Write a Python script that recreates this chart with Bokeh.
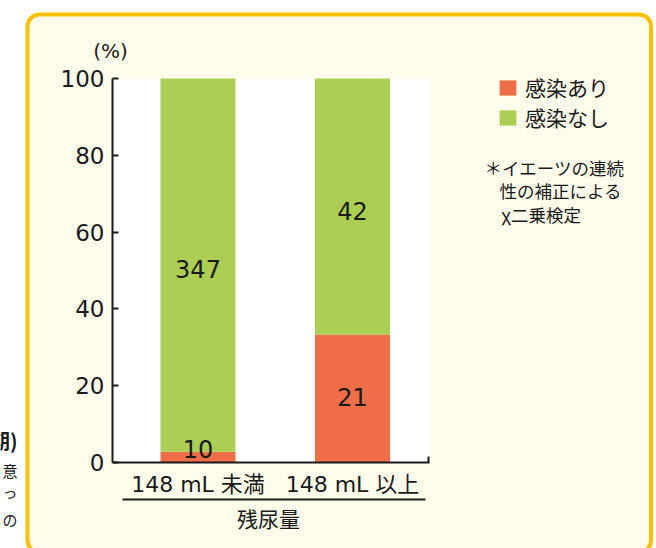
from bokeh.plotting import figure
from bokeh.models import Range1d, LinearAxis, FixedTicker, Legend, LegendItem, ColumnDataSource, Grid
from bokeh.core.properties import value
from bokeh.embed import file_html
from bokeh.resources import INLINE

# ---- data ----
groups = ["148 mL 未満", "148 mL 以上"]
infected = [10, 21]
not_infected = [347, 42]
series_names = ["感染あり", "感染なし"]
y_ticks = [0, 20, 40, 60, 80, 100]
axis_title = "残尿量"
unit_label = "(%)"
note_lines = ["＊イエーツの連続", "性の補正による", "χ二乗検定"]

x_pos = [1, 2]
totals = [a + b for a, b in zip(infected, not_infected)]
pct_inf = [a / t * 100 for a, t in zip(infected, totals)]
pct_top = [100 for _ in totals]

FONT = "Noto Sans CJK JP"
MIX = "DejaVu Sans, Noto Sans CJK JP"
ORANGE = "#ee6e48"
GREEN = "#abcf55"
CREAM = "#fffcec"
GOLD = "#f9c000"
INK = "#1a1a1a"

W, H = 656, 548
# plot area (pixels from top-left)
PL, PR, PT, PB = 112, 430, 78, 462
PX_PCT = (PB - PT) / 100.0
C1, PX_CAT = 197.5, 154.5

p = figure(width=W, height=H, output_backend="svg", toolbar_location=None,
           x_range=Range1d(0, W), y_range=Range1d(H, 0),
           x_axis_location=None, y_axis_location=None, min_border=0,
           background_fill_color="white", border_fill_color="white",
           outline_line_color=None)
p.center = [r for r in p.center if not isinstance(r, Grid)]

cat_start = x_pos[0] - C1 / PX_CAT
p.extra_x_ranges = {"cat": Range1d(start=cat_start, end=cat_start + W / PX_CAT)}
p.extra_y_ranges = {"pct": Range1d(start=-(H - PB) / PX_PCT, end=100 + PT / PX_PCT)}

def cat_at(px):
    return cat_start + px / PX_CAT

# panel
p.quad(left=[27], right=[650.5], top=[14], bottom=[552], fill_color=CREAM,
       line_color=GOLD, line_width=4, border_radius=12)
# white plot area
p.quad(left=[PL], right=[PR], top=[PT], bottom=[PB], fill_color="white", line_color=None)

src = ColumnDataSource(dict(x=x_pos, inf=pct_inf, top=pct_top))
r_inf = p.vbar(x="x", bottom=0, top="inf", width=75 / PX_CAT, source=src,
               x_range_name="cat", y_range_name="pct", fill_color=ORANGE, line_color=None)
r_not = p.vbar(x="x", bottom="inf", top="top", width=75 / PX_CAT, source=src,
               x_range_name="cat", y_range_name="pct", fill_color=GREEN, line_color=None)

# value labels
lab_x = x_pos + x_pos
lab_y = [v / 2 for v in pct_inf] + [v + (100 - v) / 2 for v in pct_inf]
lab_t = [str(v) for v in infected] + [str(v) for v in not_infected]
p.text(x=lab_x, y=lab_y, text=lab_t, x_range_name="cat", y_range_name="pct",
       text_font=value(MIX), text_font_size="24px", text_align="center",
       text_baseline="middle", text_color=INK, y_offset=[-8, -2, 4, 4])

# y axis
yaxis = LinearAxis(y_range_name="pct", fixed_location=PL, bounds=(0, 100),
                   ticker=FixedTicker(ticks=y_ticks, minor_ticks=[]),
                   axis_line_color=INK, axis_line_width=2,
                   major_tick_in=6, major_tick_out=0, major_tick_line_width=2,
                   major_tick_line_color=INK, minor_tick_line_color=None,
                   major_label_text_font=MIX, major_label_text_font_size="23px",
                   major_label_text_color=INK, major_label_standoff=8)
p.add_layout(yaxis, "left")

# x axis (labels drawn below, slightly offset as in the original)
xaxis = LinearAxis(x_range_name="cat", fixed_location=PB,
                   bounds=(cat_at(PL), cat_at(PR - 1)),
                   ticker=FixedTicker(ticks=x_pos, minor_ticks=[cat_at(PR - 2)]),
                   major_label_overrides={x_pos[0]: groups[0], x_pos[1]: groups[1]},
                   axis_line_color=INK, axis_line_width=2,
                   major_tick_line_color=None,
                   minor_tick_in=6, minor_tick_out=0, minor_tick_line_width=2,
                   minor_tick_line_color=INK,
                   major_label_text_font=MIX, major_label_text_font_size="22px",
                   major_label_text_color=INK, major_label_standoff=3)
p.add_layout(xaxis, "below")

# bracket line and axis title
p.line(x=[122, 425], y=[499, 499], line_color=INK, line_width=2)
p.text(x=[268], y=[517], text=[axis_title], text_font=value(FONT), text_font_size="21px",
       text_align="center", text_baseline="middle", text_color=INK)
p.text(x=[110], y=[50], text=[unit_label], text_font=value(MIX), text_font_size="20px",
       text_align="center", text_baseline="middle", text_color=INK)

# notes
p.text(x=[484, 499, 501], y=[167, 190, 214], text=note_lines, text_font=value(FONT),
       text_font_size="17.5px", text_align="left", text_baseline="middle", text_color=INK)

# neighbouring page fragments at the left edge
p.text(x=[17], y=[440], text=["期)"], text_font=value(FONT), text_font_size="20px",
       text_font_style="bold", text_align="right", text_baseline="middle", text_color=INK)
p.text(x=[17, 17, 17], y=[470, 491, 519], text=["意", "っ", "の"], text_font=value(FONT),
       text_font_size="15px", text_align="right", text_baseline="middle", text_color=INK)

legend = Legend(items=[LegendItem(label=series_names[0], renderers=[r_inf]),
                       LegendItem(label=series_names[1], renderers=[r_not])],
                location=(497, H - 76 - 56), glyph_width=21, glyph_height=19,
                label_text_font=FONT, label_text_font_size="21px", label_text_color=INK,
                label_standoff=7, spacing=-4, padding=0, margin=0,
                border_line_color=None, background_fill_alpha=0)
p.add_layout(legend, "center")

open("out.html", "w").write(file_html(p, INLINE))
